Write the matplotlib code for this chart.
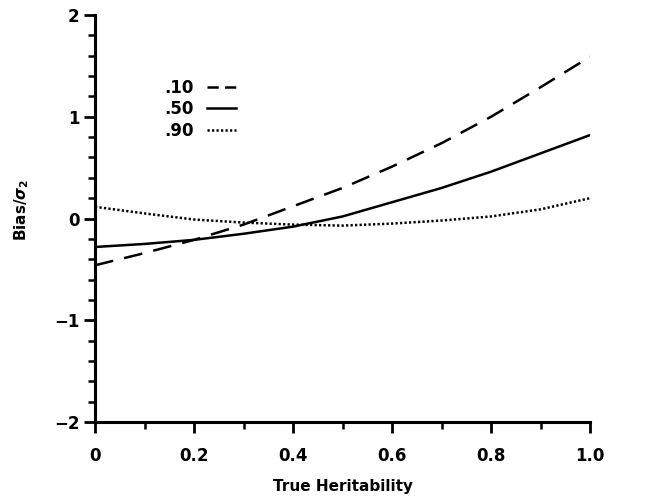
import matplotlib.pyplot as plt
from matplotlib.ticker import MultipleLocator, FixedFormatter, FixedLocator

plt.rcParams['font.family'] = ['DejaVu Sans']
plt.rcParams['font.weight'] = 'bold'
plt.rcParams['mathtext.fontset'] = 'dejavusans'

# true heritability
h = [0.0, 0.1, 0.2, 0.3, 0.4, 0.5, 0.6, 0.7, 0.8, 0.9, 1.0]
# bias / sigma_2 for the three levels
bias_10 = [-0.46, -0.34, -0.21, -0.06, 0.12, 0.30, 0.51, 0.74, 1.00, 1.29, 1.59]
bias_50 = [-0.28, -0.25, -0.21, -0.15, -0.08, 0.02, 0.16, 0.30, 0.46, 0.64, 0.82]
bias_90 = [0.115, 0.05, -0.01, -0.04, -0.06, -0.07, -0.05, -0.02, 0.02, 0.09, 0.20]
labels = ['.10', '.50', '.90']

fig = plt.figure(figsize=(6.69, 5.0), dpi=100)
ax = fig.add_axes([0.142, 0.156, 0.740, 0.814])

ax.plot(h, bias_10, color='black', lw=1.8, dashes=(7.5, 4.5), label=labels[0])
ax.plot(h, bias_50, color='black', lw=1.8, label=labels[1])
ax.plot(h, bias_90, color='black', lw=1.8, dashes=(0.9, 0.9), label=labels[2])

ax.set_xlim(0, 1.0)
ax.set_ylim(-2, 2)
ax.spines['top'].set_visible(False)
ax.spines['right'].set_visible(False)
for s in ['left', 'bottom']:
    ax.spines[s].set_linewidth(2.2)

ax.xaxis.set_major_locator(FixedLocator([0, 0.2, 0.4, 0.6, 0.8, 1.0]))
ax.xaxis.set_major_formatter(FixedFormatter(['0', '0.2', '0.4', '0.6', '0.8', '1.0']))
ax.xaxis.set_minor_locator(MultipleLocator(0.1))
ax.yaxis.set_minor_locator(MultipleLocator(0.2))
ax.set_yticks([-2, -1, 0, 1, 2])
ax.set_yticklabels(['\u22122', '\u22121', '0', '1', '2'])
ax.tick_params(which='major', length=8, width=2, labelsize=12, pad=10)
ax.tick_params(which='minor', length=5, width=1.8)
ax.tick_params(axis='y', which='major', pad=3)

ax.set_xlabel('True Heritability', fontsize=11, fontweight='bold', labelpad=10)
ax.set_ylabel(r'Bias/$\sigma_2$', fontsize=11, fontweight='bold')
ax.yaxis.set_label_coords(-0.13, 0.52)

leg = ax.legend(loc='upper left', bbox_to_anchor=(0.11, 0.88), frameon=False,
                markerfirst=False, handlelength=1.7, fontsize=12,
                labelspacing=0.2, handletextpad=0.8)
leg.get_lines()[0].set_dashes((4.5, 2.5))

fig.savefig('out.png', dpi=100)
